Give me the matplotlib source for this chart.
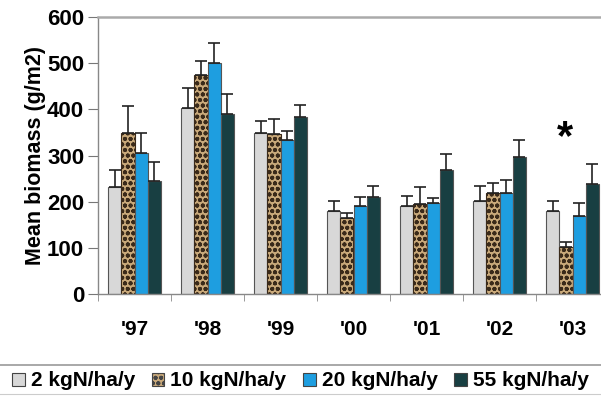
import matplotlib.pyplot as plt
import numpy as np
from matplotlib.patches import Patch
from matplotlib.lines import Line2D

plt.rcParams['font.family'] = ['Liberation Sans', 'DejaVu Sans']
plt.rcParams['font.weight'] = 'bold'
plt.rcParams['hatch.linewidth'] = 1.3

years = ["'97", "'98", "'99", "'00", "'01", "'02", "'03"]
series = ["2 kgN/ha/y", "10 kgN/ha/y", "20 kgN/ha/y", "55 kgN/ha/y"]

n2 = [231, 402, 349, 180, 190, 201, 180]
n10 = [349, 475, 347, 164, 196, 218, 101]
n20 = [305, 500, 333, 191, 197, 218, 168]
n55 = [245, 390, 384, 210, 269, 297, 238]

n2_err = [37, 44, 25, 21, 23, 33, 21]
n10_err = [58, 30, 31, 11, 35, 22, 12]
n20_err = [44, 43, 21, 19, 12, 28, 29]
n55_err = [41, 43, 25, 25, 34, 36, 43]

colors = ["#d8d8d8", "#c9a97a", "#1e9ee0", "#183f42"]
hatches = [None, "ooo", None, None]

fig = plt.figure(figsize = (6.01, 4.0), dpi = 100)
# axes extends past the right edge, the original is cropped there
ax = fig.add_axes([98/601, 106/400, 511/601, 277/400])

x = np.arange(len(years))
width = 0.182
values = [n2, n10, n20, n55]
errs = [n2_err, n10_err, n20_err, n55_err]

for i in range(4):
    pos = x + (i - 1.5)*width
    ax.bar( pos, values[i], width
          , color = colors[i]
          , edgecolor = "#3a2a1a" if i == 1 else "#555555"
          , linewidth = 0.8
          , hatch = hatches[i]
          , zorder = 2
          )
    ax.errorbar( pos, values[i]
               , yerr = [np.zeros(len(years)), errs[i]]
               , fmt = "none", ecolor = "#222222", elinewidth = 1.2
               , capsize = 4, capthick = 1.2, zorder = 3
               )

ax.set_xlim(-0.5, 6.5)
ax.set_ylim(0, 600)
ax.set_yticks(np.arange(0, 601, 100))
ax.set_xticks(x)
ax.set_xticklabels(years, fontsize = 15, fontweight = "bold")
ax.set_xticks(np.arange(-0.5, 7, 1), minor = True)
ax.tick_params(axis = "x", which = "major", length = 0, pad = 19)
ax.tick_params(axis = "x", which = "minor", length = 5, color = "#888888")
ax.tick_params(axis = "y", labelsize = 16, length = 7, color = "#777777", pad = 3)
for lab in ax.get_yticklabels():
    lab.set_fontweight("bold")

for s in ["left", "bottom", "top"]:
    ax.spines[s].set_color("#888888")
    ax.spines[s].set_linewidth(1.0)
ax.spines["top"].set_color("#aaaaaa")
ax.spines["top"].set_linewidth(1.8)
ax.spines["right"].set_visible(False)

ax.set_ylabel("Mean biomass (g/m2)", fontsize = 15.5, fontweight = "bold", labelpad = 1)

ax.text(6 - 0.1, 338, "*", fontsize = 30, fontweight = "bold", ha = "center", va = "center")

# legend strip
fig.add_artist(Line2D([0, 1], [1 - 365/400]*2, color = "#999999", linewidth = 1.2))
fig.add_artist(Line2D([0, 1], [1 - 394/400]*2, color = "#cccccc", linewidth = 0.8))

handles = [Patch(facecolor = colors[i], edgecolor = "#444444", hatch = hatches[i], linewidth = 0.8)
           for i in range(4)]
fig.legend( handles, series
          , loc = "center", bbox_to_anchor = (0.5, 1 - 381/400)
          , ncol = 4, frameon = False
          , prop = {"size": 15, "weight": "bold"}
          , handlelength = 0.6, handleheight = 0.6
          , handletextpad = 0.3, columnspacing = 0.8
          , borderpad = 0
          )

plt.savefig("out.png", dpi = 100)
